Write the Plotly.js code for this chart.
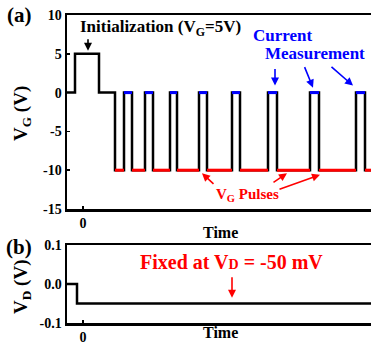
<!DOCTYPE html>
<html><head><meta charset="utf-8">
<script src="https://cdn.plot.ly/plotly-3.0.1.min.js"></script>
<style>html,body{margin:0;padding:0;overflow:hidden;background:#fff}</style>
</head><body><div id="chart" style="width:371px;height:345px"></div>
<script>
// ---- data (time in arbitrary units) ----
const tStart = -16, tEnd = 288;
const initRise = -8, initFall = 16, firstDrop = 32;
const restLevel = 0, initLevel = 5, pulseLow = -10, pulseHigh = 0;
const pulseOn  = [41, 62, 87, 116, 149, 185, 227, 273];
const pulseOff = [49, 70, 94, 124, 157, 194, 236, 282];
const vdStepTime = -6, vdStart = 0, vdLevel = -0.05;
const yTicksTop = [-15, -10, -5, 0, 5, 10];
const yTickTextTop = ['-15', '-10', '-5', '0', '5', '10'];
const yTicksBot = [-0.1, 0.0, 0.1];
const yTickTextBot = ['-0.1', '0.0', '0.1'];

// ---- build step waveform ----
const vgX = [tStart, initRise, initRise, initFall, initFall, firstDrop, firstDrop];
const vgY = [restLevel, restLevel, initLevel, initLevel, restLevel, restLevel, pulseLow];
const redX = [firstDrop], redY = [pulseLow];
const blueX = [], blueY = [];
for (let i = 0; i < pulseOn.length; i++) {
  vgX.push(pulseOn[i], pulseOn[i], pulseOff[i], pulseOff[i]);
  vgY.push(pulseLow, pulseHigh, pulseHigh, pulseLow);
  redX.push(pulseOn[i], null, pulseOff[i]); redY.push(pulseLow, null, pulseLow);
  blueX.push(pulseOn[i], pulseOff[i], null); blueY.push(pulseHigh, pulseHigh, null);
}
vgX.push(tEnd); vgY.push(pulseLow);
redX.push(tEnd); redY.push(pulseLow);

const vdX = [tStart, vdStepTime, vdStepTime, tEnd];
const vdY = [vdStart, vdStart, vdLevel, vdLevel];

const FONT = '"Liberation Serif", "Times New Roman", serif';
const traces = [
  {x: vgX, y: vgY, mode: 'lines', line: {color: '#000', width: 2.5}, xaxis: 'x', yaxis: 'y', hoverinfo: 'skip'},
  {x: redX, y: redY, mode: 'lines', line: {color: '#ff0000', width: 3}, xaxis: 'x', yaxis: 'y', connectgaps: false, hoverinfo: 'skip'},
  {x: blueX, y: blueY, mode: 'lines', line: {color: '#0000ff', width: 3}, xaxis: 'x', yaxis: 'y', connectgaps: false, hoverinfo: 'skip'},
  {x: vdX, y: vdY, mode: 'lines', line: {color: '#000', width: 2.5}, xaxis: 'x2', yaxis: 'y2', hoverinfo: 'skip'}
];

const tickfont = {family: FONT, size: 14, color: '#000', weight: 'bold'};
const xCommon = {range: [tStart, tEnd], showline: true, linewidth: 2.5, linecolor: '#000', mirror: true,
  ticks: 'inside', ticklen: 3, tickwidth: 1.5, tickcolor: '#000', tickvals: [0], ticktext: ['0'],
  tickfont: tickfont, showgrid: false, zeroline: false};
const yCommon = {showline: true, linewidth: 2.5, linecolor: '#000', mirror: false,
  ticks: 'inside', ticklen: 3, tickwidth: 1.5, tickcolor: '#000', tickfont: tickfont,
  showgrid: false, zeroline: false};

const H = 345, L = 67, W = 371 - 67;
const px2paperX = p => (p - L) / W;
const px2paperY = p => 1 - p / H;
function txt(text, xp, yp, size, color, extra) {
  return Object.assign({text: '<b>' + text + '</b>', xref: 'paper', yref: 'paper', x: px2paperX(xp), y: px2paperY(yp),
    xanchor: 'center', yanchor: 'middle', showarrow: false,
    font: {family: FONT, size: size, color: color}}, extra || {});
}
function arrow(xref, yref, x, y, ax, ay, color) {
  return {text: '', xref: xref, yref: yref, x: x, y: y, ax: ax, ay: ay, showarrow: true,
    arrowhead: 2, arrowsize: 1, arrowwidth: 1.6, arrowcolor: color};
}

const annotations = [
  txt('(a)', 19, 15, 21, '#000'),
  txt('(b)', 19, 247, 21, '#000'),
  txt('V<sub>G</sub> (V)', 22, 114, 19, '#000', {textangle: -90}),
  txt('V<sub>D</sub> (V)', 22, 287, 19, '#000', {textangle: -90}),
  txt('Time', 220, 232, 16, '#000'),
  txt('Time', 220, 332, 16, '#000'),
  txt('Initialization (V<sub>G</sub>=5V)', 160, 28, 17, '#000'),
  arrow('x', 'y', 5, 5.4, 0, -13, '#000'),
  txt('Current', 283, 35, 17, '#0000ff'),
  txt('Measurement', 315, 53, 17, '#0000ff'),
  arrow('x', 'y', 192, 0.9, 0, -18, '#0000ff'),
  arrow('x', 'y', 230, 0.64, -9, -22, '#0000ff'),
  arrow('x', 'y', 270, 0.9, -23, -20, '#0000ff'),
  txt('V<sub>G</sub> Pulses', 247, 195, 15, '#ff0000'),
  arrow('x', 'y', 119, -10.4, 13, 12, '#ff0000'),
  arrow('x', 'y', 204, -10.4, -15, 10, '#ff0000'),
  arrow('x', 'y', 237, -10.6, -42, 15, '#ff0000'),
  txt("Fixed at V<span style='font-size:14px'>D</span> = -50 mV", 231, 262, 20, '#ff0000'),
  arrow('x2', 'y2', 149, -0.035, 0, -22, '#ff0000')
];

const layout = {
  width: 371, height: 345, margin: {l: L, r: 0, t: 0, b: 0},
  paper_bgcolor: '#fff', plot_bgcolor: '#fff', showlegend: false,
  xaxis: Object.assign({}, xCommon, {anchor: 'y'}),
  yaxis: Object.assign({}, yCommon, {range: [-15, 10], tickvals: yTicksTop, ticktext: yTickTextTop, domain: [px2paperY(209), px2paperY(15)], anchor: 'x'}),
  xaxis2: Object.assign({}, xCommon, {anchor: 'y2'}),
  yaxis2: Object.assign({}, yCommon, {range: [-0.1, 0.1], tickvals: yTicksBot, ticktext: yTickTextBot, domain: [px2paperY(323), px2paperY(245)], anchor: 'x2'}),
  annotations: annotations
};
Plotly.newPlot('chart', traces, layout, {staticPlot: true, displayModeBar: false});
</script></body></html>
